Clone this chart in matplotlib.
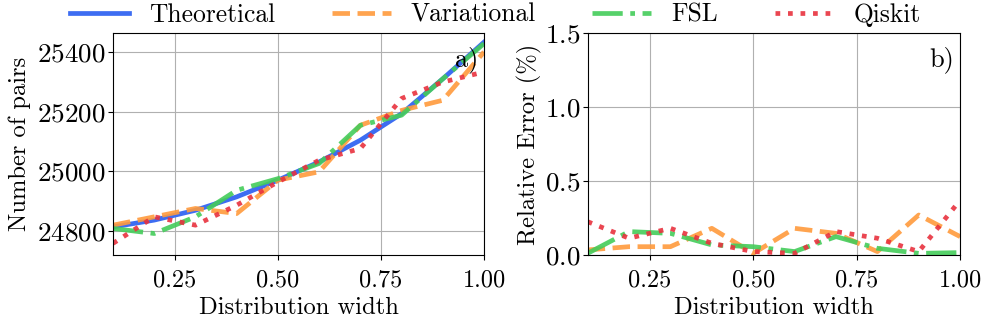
import numpy as np
import matplotlib
matplotlib.use("Agg")
import matplotlib.pyplot as plt

plt.rcParams["font.family"] = "serif"
plt.rcParams["font.serif"] = ["cmr10"]
plt.rcParams["mathtext.fontset"] = "cm"
plt.rcParams["axes.formatter.use_mathtext"] = True
plt.rcParams["font.size"] = 18

# anchura de la distribucion
width = [0.1, 0.2, 0.3, 0.4, 0.5, 0.6, 0.7, 0.8, 0.9, 1.0]

# numero de pares
theo = [24814, 24837, 24870, 24915, 24971, 25032, 25105, 25194, 25311, 25434]
vari = [24820, 24848, 24876, 24859, 24971, 24999, 25155, 25205, 25239, 25401]
fsl = [24809, 24792, 24848, 24937, 24976, 25027, 25155, 25189, 25311, 25429]
qisk = [24759, 24848, 24820, 24887, 24965, 25038, 25077, 25245, 25300, 25334]

# error relativo (%)
err_vari = [0.034, 0.056, 0.056, 0.18, 0.011, 0.18, 0.146, 0.023, 0.27, 0.124]
err_fsl = [0.011, 0.158, 0.146, 0.068, 0.056, 0.023, 0.124, 0.045, 0.011, 0.016]
err_qisk = [0.225, 0.113, 0.18, 0.079, 0.023, 0.011, 0.158, 0.113, 0.023, 0.37]

c_theo = "#3d6df2"
c_vari = "#ff9a3c"
c_fsl = "#44cc5a"
c_qisk = "#e8323e"
lw = 3.4

fig = plt.figure(figsize=(9.96, 3.32), dpi=100)
ax1 = fig.add_axes([0.1135, 0.232, 0.3725, 0.669])
ax2 = fig.add_axes([0.590, 0.232, 0.374, 0.669])

ax1.plot(width, theo, color=c_theo, lw=lw, label="Theoretical")
ax1.plot(width, vari, color=c_vari, lw=lw, ls="--", alpha=0.9, label="Variational")
ax1.plot(width, fsl, color=c_fsl, lw=lw, ls="-.", alpha=0.9, label="FSL")
ax1.plot(width, qisk, color=c_qisk, lw=lw, ls=":", alpha=0.9, label="Qiskit")
ax1.set_xlim(0.1, 1.0)
ax1.set_ylim(24720, 25465)
ax1.set_yticks([24800, 25000, 25200, 25400])
ax1.set_xticks([0.25, 0.5, 0.75, 1.0])
ax1.set_xticklabels(["0.25", "0.50", "0.75", "1.00"])
ax1.tick_params(axis="y", labelsize=19.5, pad=2)
ax1.tick_params(axis="x", labelsize=17.5, pad=7)
ax1.set_xlabel("Distribution width", labelpad=4, fontsize=17.7)
ax1.set_ylabel("Number of pairs", labelpad=4, fontsize=17.7)
ax1.grid(True, color="#b0b0b0", lw=0.8)
ax1.text(0.985, 0.94, "a)", transform=ax1.transAxes, ha="right", va="top", fontsize=19)

ax2.plot(width, err_vari, color=c_vari, lw=lw, ls="--", alpha=0.9)
ax2.plot(width, err_fsl, color=c_fsl, lw=lw, ls="-.", alpha=0.9)
ax2.plot(width, err_qisk, color=c_qisk, lw=lw, ls=":", alpha=0.9)
ax2.set_xlim(0.1, 1.0)
ax2.set_ylim(0, 1.5)
ax2.set_yticks([0.0, 0.5, 1.0, 1.5])
ax2.set_xticks([0.25, 0.5, 0.75, 1.0])
ax2.set_xticklabels(["0.25", "0.50", "0.75", "1.00"])
ax2.tick_params(axis="y", labelsize=19.5, pad=2)
ax2.tick_params(axis="x", labelsize=17.5, pad=7)
ax2.set_xlabel("Distribution width", labelpad=4, fontsize=17.7)
ax2.set_ylabel("Relative Error (%)", labelpad=2, fontsize=17.7)
ax2.grid(True, color="#b0b0b0", lw=0.8)
ax2.text(0.985, 0.94, "b)", transform=ax2.transAxes, ha="right", va="top", fontsize=19)

fig.legend(loc="center", bbox_to_anchor=(0.4975, 0.955), ncol=4, frameon=False,
           handlelength=2.3, columnspacing=2.2, handletextpad=0.8, fontsize=18.4)

fig.savefig("out.png", dpi=100)
